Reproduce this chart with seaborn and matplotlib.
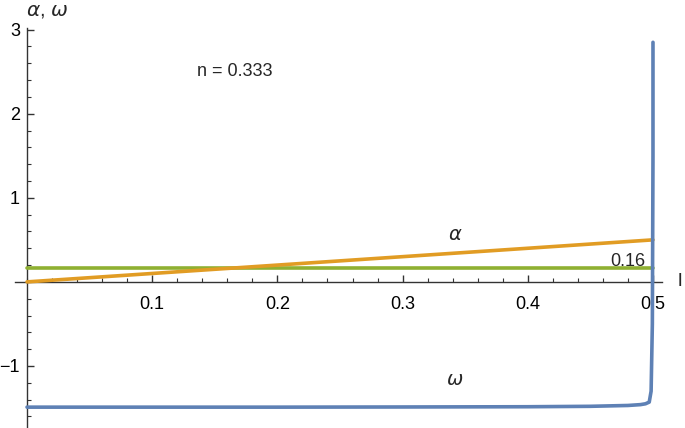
import numpy as np
import pandas as pd
import matplotlib
matplotlib.use("Agg")
import matplotlib.pyplot as plt
import seaborn as sns
from matplotlib.ticker import MultipleLocator, FixedLocator

# valores
l_alpha = [0.0, 0.5]
alpha = [0.0, 0.5]

l_n = [0.0, 0.5]
n_line = [0.16, 0.16]

l_omega = [0.0, 0.1, 0.2, 0.3, 0.4, 0.45, 0.48, 0.49, 0.494, 0.497, 0.4985, 0.4995, 0.5, 0.5]
omega = [-1.49, -1.49, -1.49, -1.488, -1.485, -1.48, -1.47, -1.46, -1.45, -1.43, -1.3, -0.5, 1.5, 2.85]

x_ticks = [0.1, 0.2, 0.3, 0.4, 0.5]
x_labels = ["0.1", "0.2", "0.3", "0.4", "0.5"]
y_ticks = [-1, 1, 2, 3]
y_labels = ["\u22121", "1", "2", "3"]

BLUE = "#5e81b5"
ORANGE = "#e19c24"
GREEN = "#8fb032"
AXIS = "#333333"

sns.set_style("white")
plt.rcParams["font.family"] = ["Liberation Sans", "DejaVu Sans"]

fig = plt.figure(figsize=(6.85, 4.28), dpi=100)
ax = fig.add_axes([15 / 685, 0.0, (662 - 15) / 685, 400 / 428])

df_a = pd.DataFrame({"l": l_alpha, "v": alpha})
df_n = pd.DataFrame({"l": l_n, "v": n_line})
df_w = pd.DataFrame({"l": l_omega, "v": omega})

kw = dict(x="l", y="v", lw=2.6, ax=ax, sort=False, estimator=None, errorbar=None)
sns.lineplot(data=df_n, color=GREEN, zorder=3, **kw)
sns.lineplot(data=df_a, color=ORANGE, zorder=4, **kw)
sns.lineplot(data=df_w, color=BLUE, zorder=5, **kw)

ax.set_xlim(-0.0096, 0.5072)
ax.set_ylim(-1.738, 3.02)

for side in ["top", "right"]:
    ax.spines[side].set_visible(False)
ax.spines["left"].set_position(("data", 0))
ax.spines["bottom"].set_position(("data", 0))
for side in ["left", "bottom"]:
    ax.spines[side].set_color(AXIS)
    ax.spines[side].set_linewidth(1.0)

ax.xaxis.set_major_locator(FixedLocator(x_ticks))
ax.set_xticklabels(x_labels)
ax.xaxis.set_minor_locator(MultipleLocator(0.02))
ax.yaxis.set_major_locator(FixedLocator(y_ticks))
ax.set_yticklabels(y_labels)
ax.yaxis.set_minor_locator(MultipleLocator(0.2))

ax.tick_params(axis="both", which="both", bottom=True, left=True, top=False, right=False)
ax.tick_params(axis="both", which="major", direction="in", length=5, width=1,
               color=AXIS, labelsize=13, labelcolor="black")
ax.tick_params(axis="both", which="minor", direction="in", length=3, width=0.8, color=AXIS)
ax.tick_params(axis="x", which="major", pad=10)
ax.tick_params(axis="y", which="major", pad=5)
ax.set_xlabel("")
ax.set_ylabel("")

# etiquetas
fig.text(26 / 685, 1 - 11 / 428, r"$\alpha$, $\omega$", fontsize=14.5, ha="left", va="center")
fig.text(680 / 685, 1 - 282 / 428, "l", fontsize=14, ha="center", va="center")
ax.text(0.166, 2.5, "n = 0.333", fontsize=13, ha="center", va="center")
ax.text(0.342, 0.55, r"$\alpha$", fontsize=14, ha="center", va="center")
ax.text(0.342, -1.17, r"$\omega$", fontsize=14, ha="center", va="center")
ax.text(0.48, 0.24, "0.16", fontsize=13, ha="center", va="center")

fig.savefig("out.png", dpi=100)
